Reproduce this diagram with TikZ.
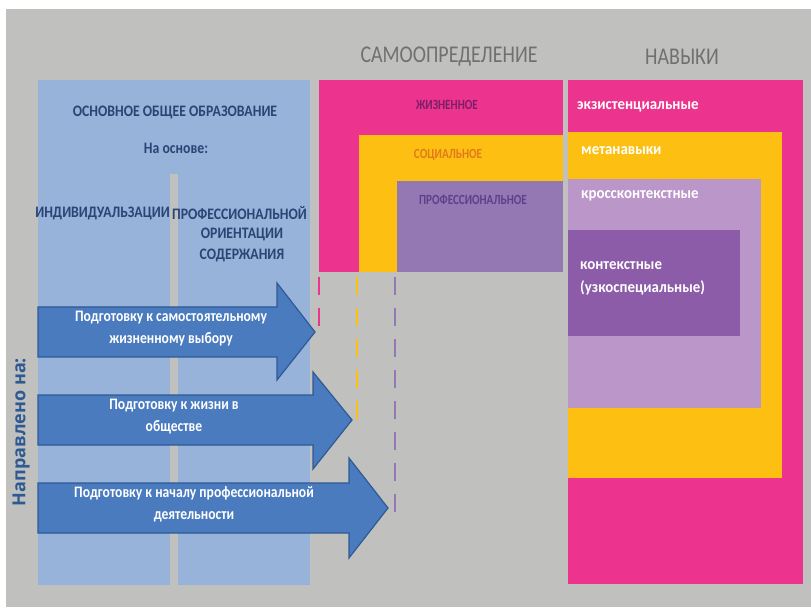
\documentclass[tikz,border=0pt]{standalone}
\usepackage{fontspec}
\setmainfont{Carlito}
\newfontfamily\condT[FakeStretch=0.83]{Carlito}
\newfontfamily\condA[FakeStretch=0.86]{Carlito}
\newfontfamily\condB[FakeStretch=0.8]{Carlito}
\newfontfamily\condC[FakeStretch=0.93]{Carlito}
\newfontfamily\condD[FakeStretch=0.85]{Carlito}
\newfontfamily\vfont{Open Sans}
\definecolor{bg}{HTML}{C0C0BE}
\definecolor{panel}{HTML}{98B3D9}
\definecolor{pinkc}{HTML}{EC338D}
\definecolor{yelc}{HTML}{FDC012}
\definecolor{purc}{HTML}{9478B4}
\definecolor{lavc}{HTML}{BB96C8}
\definecolor{dpurc}{HTML}{8C5CA8}
\definecolor{arrfill}{HTML}{4A7BBF}
\definecolor{arrline}{HTML}{2E5A94}
\definecolor{navy}{HTML}{2A4474}
\definecolor{titlegray}{HTML}{707070}
\definecolor{txtmag}{HTML}{7C1F6A}
\definecolor{txtorg}{HTML}{E27A1C}
\definecolor{txtpur}{HTML}{5A418A}
\begin{document}
\begin{tikzpicture}[x=1pt,y=-1pt,
  title/.style={font=\condT\fontsize{24}{26}\selectfont, text=titlegray, inner sep=0pt},
  paneltxt/.style={font=\condA\bfseries\fontsize{16}{18}\selectfont, text=navy, inner sep=0pt},
  grouptxt/.style={font=\condB\bfseries\fontsize{14}{16}\selectfont, inner sep=0pt},
  skilltxt/.style={font=\condC\bfseries\fontsize{16}{23}\selectfont, text=white, inner sep=0pt, anchor=west, align=left},
  arrowshape/.style={fill=arrfill, draw=arrline, line width=1.2pt, line join=miter},
  arrowtxt/.style={font=\condD\bfseries\fontsize{16}{22}\selectfont, text=white, align=center, inner sep=0pt},
  dashline/.style={line width=2.5pt, dash pattern=on 18pt off 13pt}
]
\useasboundingbox (0,0) rectangle (811,609);
\fill[white] (0,0) rectangle (811,609);
\fill[bg] (6,9) rectangle (811,607);

% titles
\node[title] (tself) at (449,57) {САМООПРЕДЕЛЕНИЕ};
\node[title] (tskill) at (682,57) {НАВЫКИ};

% left panel
\fill[panel] (38,80) rectangle (310,585);
\fill[bg] (170,174) rectangle (178,585);
\node[paneltxt] (basic) at (175,112) {ОСНОВНОЕ ОБЩЕЕ ОБРАЗОВАНИЕ};
\node[paneltxt] (base) at (176,148) {На основе:};
\node[paneltxt, anchor=east] (indiv) at (170,213) {ИНДИВИДУАЛЬЗАЦИИ};
\node[paneltxt, anchor=west] (prof) at (172,213) {ПРОФЕССИОНАЛЬНОЙ};
\node[paneltxt] (orient) at (242,234) {ОРИЕНТАЦИИ};
\node[paneltxt] (content) at (242,255) {СОДЕРЖАНИЯ};

% self-determination boxes
\fill[pinkc] (319,80) rectangle (563,272);
\fill[yelc] (359,135) rectangle (563,272);
\fill[purc] (397,181) rectangle (563,272);
\node[grouptxt, text=txtmag] (life) at (447,105) {ЖИЗНЕННОЕ};
\node[grouptxt, text=txtorg] (soc) at (448,155) {СОЦИАЛЬНОЕ};
\node[grouptxt, text=txtpur] (profe) at (473,200) {ПРОФЕССИОНАЛЬНОЕ};

% skills boxes
\fill[pinkc] (568,80) rectangle (803,584);
\fill[yelc] (568,132) rectangle (782,478);
\fill[lavc] (568,179) rectangle (761,408);
\fill[dpurc] (568,230) rectangle (740,336);
\node[skilltxt] (exist) at (577,107) {экзистенциальные};
\node[skilltxt] (meta) at (581,151) {метанавыки};
\node[skilltxt] (cross) at (581,196) {кроссконтекстные};
\node[skilltxt] (ctx) at (580,278) {контекстные\\(узкоспециальные)};

% dashed guides
\coordinate (d1a) at (319,277); \coordinate (d1b) at (319,327);
\coordinate (d2a) at (357,277); \coordinate (d2b) at (357,420);
\coordinate (d3a) at (395,277); \coordinate (d3b) at (395,517);
\draw[dashline, pinkc] (d1a) -- (d1b);
\draw[dashline, yelc] (d2a) -- (d2b);
\draw[dashline, purc] (d3a) -- (d3b);

% arrows
\draw[arrowshape] (38,307) -- (277,307) -- (277,283) -- (315,332) -- (277,380) -- (277,357) -- (38,357) -- cycle;
\draw[arrowshape] (38,395) -- (313,395) -- (313,372) -- (352,420) -- (313,469) -- (313,445) -- (38,445) -- cycle;
\draw[arrowshape] (38,483) -- (349,483) -- (349,458) -- (388,508) -- (349,558) -- (349,533) -- (38,533) -- cycle;
\node[arrowtxt] (a1) at (171,329) {Подготовку к самостоятельному\\жизненному выбору};
\node[arrowtxt] (a2) at (174,417) {Подготовку к жизни в\\обществе};
\node[arrowtxt] (a3) at (194,504) {Подготовку к началу профессиональной\\деятельности};

% vertical label
\node[font=\vfont\bfseries\fontsize{18}{20}\selectfont, text=arrline, rotate=90, inner sep=0pt] (dir) at (21,432) {Направлено на:};
\end{tikzpicture}
\end{document}
